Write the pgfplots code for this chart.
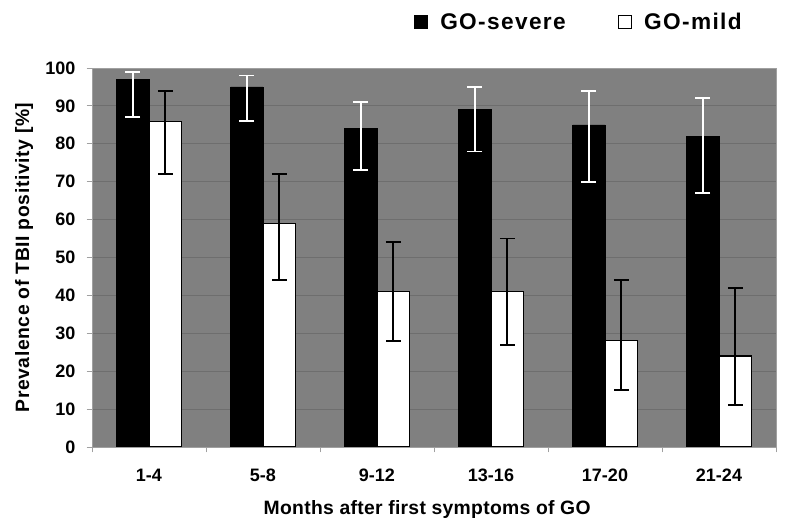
\documentclass[border=0pt]{standalone}
\usepackage{pgfplots}
\pgfplotsset{compat=1.18}
\usepackage{fontspec}
\setmainfont{Liberation Sans}
\newfontfamily\legfont[LetterSpace=6]{Liberation Sans}
\newfontfamily\labfont[LetterSpace=3]{Liberation Sans}
\newfontfamily\xlabfont[LetterSpace=1.5]{Liberation Sans}
\definecolor{bg}{HTML}{808080}
\definecolor{gridc}{HTML}{6E6E6E}
\definecolor{axc}{HTML}{A0A0A0}
\begin{document}
\begin{tikzpicture}
\useasboundingbox (-69pt,-57pt) rectangle (520.5pt,335.25pt);
\begin{axis}[
  name=ax, at={(0,0)}, anchor=south west,
  scale only axis, width=513pt, height=284.25pt,
  axis background/.style={fill=bg},
  xmin=-0.5, xmax=5.5, ymin=0, ymax=100,
  enlarge x limits=false,
  ybar=0pt, bar width=0.285,
  xtick={0,1,2,3,4,5},
  xticklabels={1-4,5-8,9-12,13-16,17-20,21-24},
  minor xtick={-0.5,0.5,1.5,2.5,3.5,4.5,5.5},
  major x tick style={draw=none},
  ytick={0,10,...,100},
  tick align=outside, major tick length=4pt, minor tick length=4pt,
  tick style={draw=axc, line width=0.6pt},
  xtick pos=bottom, ytick pos=left,
  ymajorgrids, grid style={draw=gridc, line width=0.6pt},
  axis line style={draw=axc, line width=0.6pt},
  every tick label/.append style={font=\bfseries\fontsize{13.5}{16}\selectfont},
  yticklabel style={/pgf/number format/assume math mode=true, xshift=-5pt},
  xticklabel style={yshift=-9pt},
  xlabel={Months after first symptoms of GO},
  ylabel={Prevalence of TBII positivity [\%]},
  xlabel style={font=\xlabfont\bfseries\fontsize{14.5}{17}\selectfont,
    at={(axis description cs:0.49,-0.165)}, anchor=center},
  ylabel style={font=\labfont\bfseries\fontsize{14.5}{17}\selectfont,
    at={(axis description cs:-0.0994,0.5)}, anchor=center},
  legend columns=2,
  legend style={at={(0.96,1.121)}, anchor=east, draw=none, fill=none,
    font=\legfont\bfseries\fontsize{17}{20}\selectfont,
    /tikz/every even column/.append style={column sep=37pt}},
  legend cell align=left,
  legend image code/.code={\draw[#1, line width=0.7pt] (0pt,-4.9pt) rectangle (9.8pt,4.9pt); \path (17pt,0pt);},
]
\addplot[fill=black, draw=black,
  error bars/.cd, y dir=both, y explicit,
  error bar style={white, line width=1.3pt},
  error mark options={white, line width=1.3pt, mark size=5.5pt, rotate=90}]
coordinates {
 (0,97) += (0,2) -= (0,10)
 (1,95) += (0,3) -= (0,9)
 (2,84) += (0,7) -= (0,11)
 (3,89) += (0,6) -= (0,11)
 (4,85) += (0,9) -= (0,15)
 (5,82) += (0,10) -= (0,15)
};
\addlegendentry{GO-severe}
\addplot[fill=white, draw=black, line width=0.8pt,
  error bars/.cd, y dir=both, y explicit,
  error bar style={black, line width=1.3pt},
  error mark options={black, line width=1.3pt, mark size=5.5pt, rotate=90}]
coordinates {
 (0,86) += (0,8) -= (0,14)
 (1,59) += (0,13) -= (0,15)
 (2,41) += (0,13) -= (0,13)
 (3,41) += (0,14) -= (0,14)
 (4,28) += (0,16) -= (0,13)
 (5,24) += (0,18) -= (0,13)
};
\addlegendentry{GO-mild}
\end{axis}
\end{tikzpicture}
\end{document}
